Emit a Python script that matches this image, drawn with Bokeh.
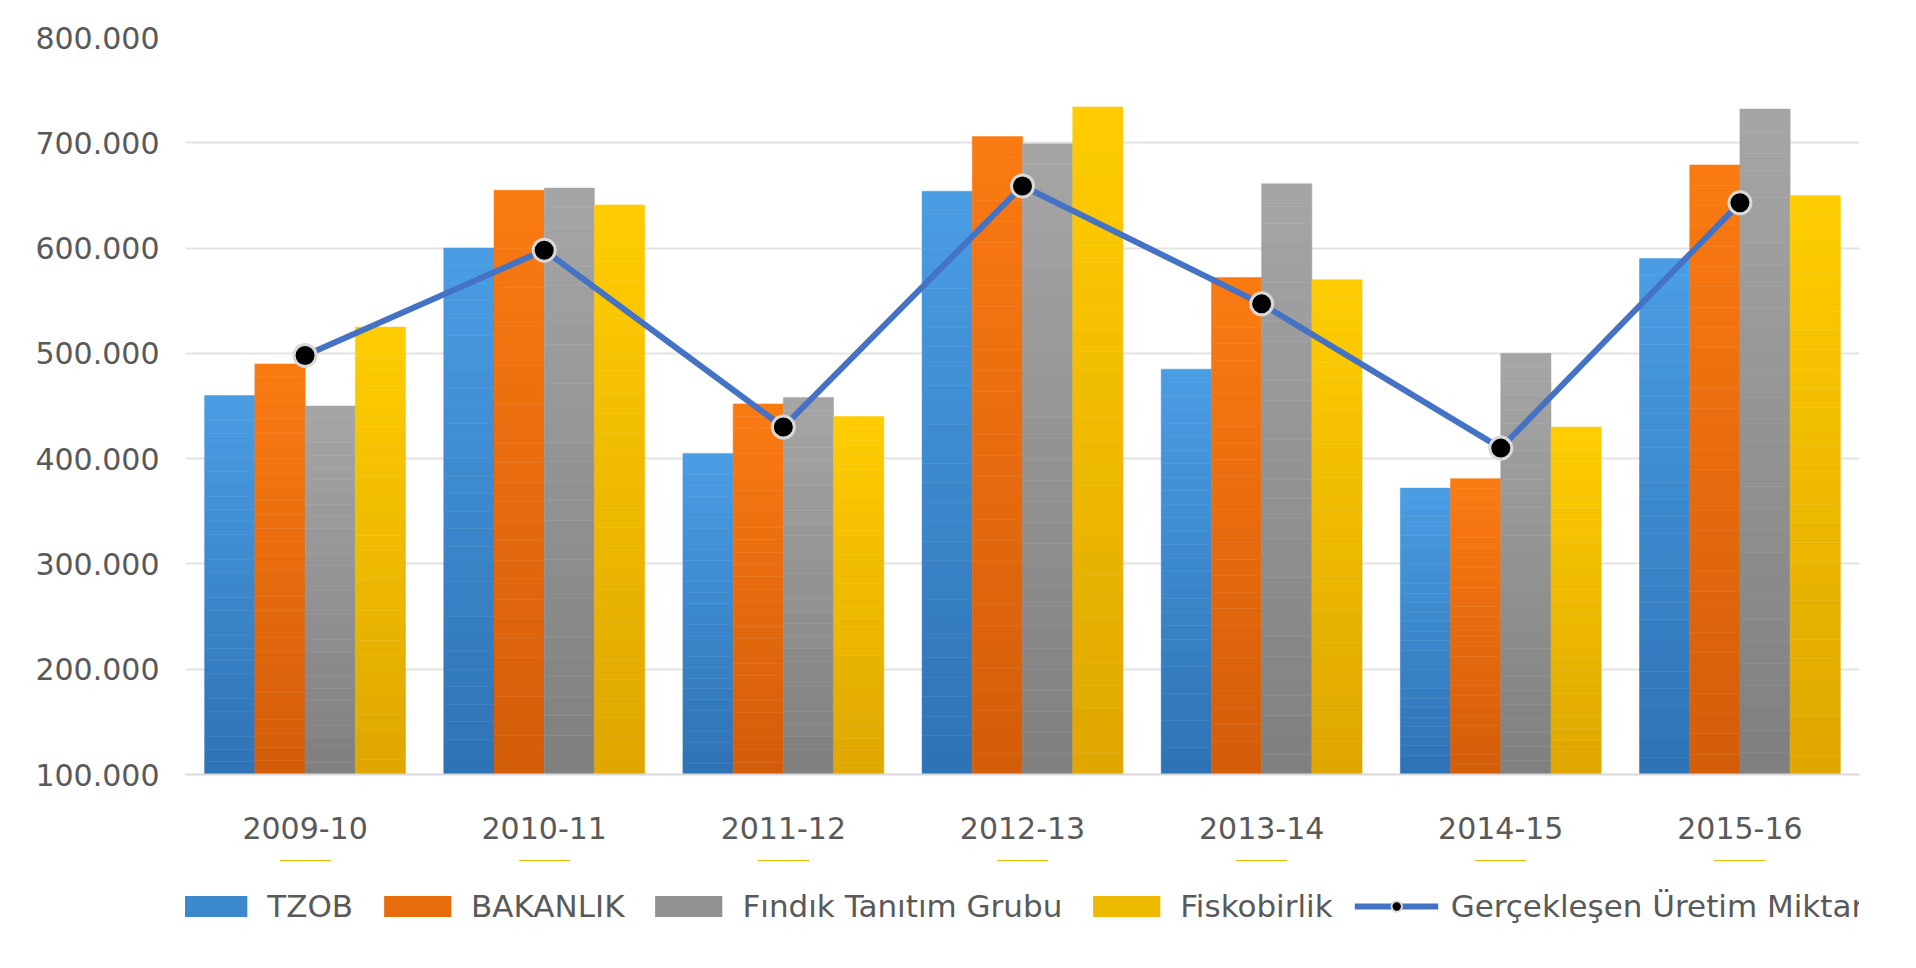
from bokeh.plotting import figure
from bokeh.layouts import column
from bokeh.models import (ColumnDataSource, FactorRange, Legend, LegendItem,
                          SingleIntervalTicker, CustomJSTickFormatter)
from bokeh.transform import dodge
from bokeh.embed import file_html
from bokeh.resources import INLINE

seasons = ["2009-10", "2010-11", "2011-12", "2012-13", "2013-14", "2014-15", "2015-16"]

tzob = [460000, 600000, 405000, 654000, 485000, 372000, 590000]
bakanlik = [490000, 655000, 452000, 706000, 572000, 381000, 679000]
findik = [450000, 657000, 458000, 699000, 661000, 500000, 732000]
fiskobirlik = [525000, 641000, 440000, 734000, 570000, 430000, 650000]
uretim = [498000, 598000, 430000, 659000, 547000, 410000, 643000]

series = [
    ("TZOB", tzob, "#2e72b4", "#4a9de4"),
    ("BAKANLIK", bakanlik, "#d35c0a", "#fb7b12"),
    ("Fındık Tanıtım Grubu", findik, "#7f7f7f", "#a6a6a6"),
    ("Fiskobirlik", fiskobirlik, "#dea600", "#ffcd00"),
]

BASE = 100000
FONT = "DejaVu Sans"
TXT = "#595959"
SLICES = 30


def mix(c1, c2, t):
    a = [int(c1[i:i + 2], 16) for i in (1, 3, 5)]
    b = [int(c2[i:i + 2], 16) for i in (1, 3, 5)]
    return "#%02x%02x%02x" % tuple(round(a[i] + (b[i] - a[i]) * t) for i in range(3))


p = figure(x_range=FactorRange(*seasons, range_padding=0), y_range=(BASE, 800000),
           width=1900, height=860, output_backend="svg",
           toolbar_location=None, min_border_left=185, min_border_right=41,
           min_border_top=37, min_border_bottom=86)
p.outline_line_color = None

# legend lives in its own strip under the chart; its y range sits well below
# the data so the helper glyphs stay out of view and only the swatches show
lg = figure(width=1900, height=92, output_backend="svg", toolbar_location=None,
            x_axis_type=None, y_axis_type=None, min_border=0,
            x_range=FactorRange(*seasons), y_range=(-2000000, -1900000))
lg.outline_line_color = None
lg.grid.grid_line_color = None

items = []
offsets = [-0.315, -0.105, 0.105, 0.315]
for (name, vals, dark, light), off in zip(series, offsets):
    xs, bots, tops, cols = [], [], [], []
    for s, v in zip(seasons, vals):
        for k in range(SLICES):
            xs.append(s)
            bots.append(BASE + (v - BASE) * k / SLICES)
            tops.append(BASE + (v - BASE) * (k + 1) / SLICES)
            cols.append(mix(dark, light, (k + 0.5) / SLICES))
    src = ColumnDataSource(dict(x=xs, bottom=bots, top=tops, color=cols))
    p.vbar(x=dodge("x", off, range=p.x_range), bottom="bottom", top="top",
           width=0.21, source=src, fill_color="color", line_color="color",
           line_width=0.5)
    sw = lg.vbar(x="x", bottom="bottom", top="top", width=0.21, source=src,
                 fill_color=mix(dark, light, 0.5), line_color=None)
    items.append(LegendItem(label=name, renderers=[sw]))

line_src = ColumnDataSource(dict(x=seasons, y=uretim))
p.line("x", "y", source=line_src, line_color="#4472c4", line_width=6)
p.scatter("x", "y", source=line_src, size=22, fill_color="black",
          line_color="#d9d9d9", line_width=3)
sl = lg.line("x", "y", source=line_src, line_color="#4472c4", line_width=6)
sp = lg.scatter("x", "y", source=line_src, size=18, fill_color="black",
                line_color="#d9d9d9", line_width=2)
items.append(LegendItem(label="Gerçekleşen Üretim Miktarı", renderers=[sl, sp]))

p.yaxis.ticker = SingleIntervalTicker(interval=100000)
p.yaxis.formatter = CustomJSTickFormatter(
    code="return tick.toFixed(0).replace(/\\B(?=(\\d{3})+(?!\\d))/g, '.');")

for ax in (p.xaxis, p.yaxis):
    ax.major_label_text_font = FONT
    ax.major_label_text_font_size = "30px"
    ax.major_label_text_color = TXT
    ax.major_tick_line_color = None
    ax.minor_tick_line_color = None
p.yaxis.axis_line_color = None
p.yaxis.major_label_standoff = 20
p.xaxis.axis_line_color = "#d9d9d9"
p.xaxis.axis_line_width = 2
p.xaxis.major_label_standoff = 36

p.xgrid.grid_line_color = None
p.ygrid.grid_line_color = "#e3e3e3"
p.ygrid.grid_line_width = 2

legend = Legend(items=items, orientation="horizontal", location="center",
                label_text_font=FONT, label_text_font_size="31px",
                label_text_color=TXT, glyph_width=84, glyph_height=26,
                label_standoff=12, spacing=22, border_line_color=None,
                background_fill_alpha=0, margin=0, padding=4)
lg.add_layout(legend)

open("out.html", "w").write(file_html(column(p, lg), INLINE))
